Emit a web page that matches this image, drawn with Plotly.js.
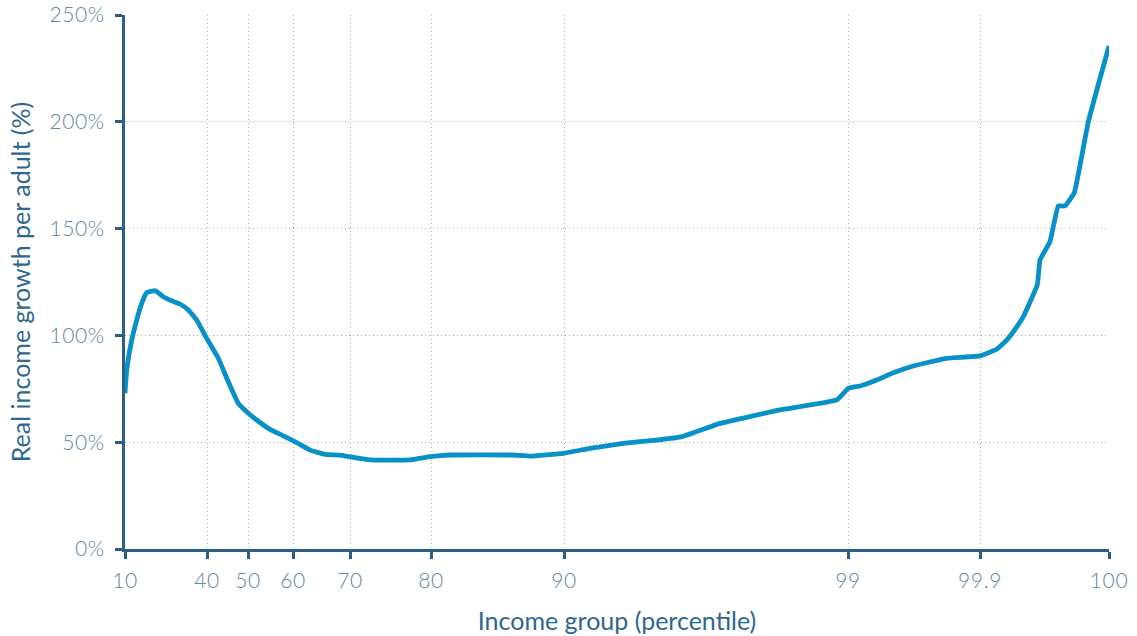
<!DOCTYPE html>
<html>
<head>
<meta charset="utf-8">
<script src="https://cdn.plot.ly/plotly-3.0.1.min.js"></script>
<style>html,body{margin:0;padding:0;background:#fff;}#chart{width:1137px;height:636px;}
.xtick text, .ytick text { letter-spacing: 0.6px; }
</style>
</head>
<body>
<div id="chart"></div>
<script>
// Position of each income group on the chart's non-linear percentile scale (rank index)
const rank = [0, 1.7, 6.7, 11.7, 16.7, 21.7, 30, 33.3, 38.3, 46.7, 55, 63.3, 71.7, 81.7, 93.3, 103.3, 113.3, 121.7, 131.7, 145, 158.3, 171.7, 185, 200, 215, 225, 245, 285, 305, 325, 388.3, 405, 438.3, 465, 498.3, 531.7, 557, 595, 655, 711.7, 723.3, 735, 751.7, 768.3, 788.3, 821.7, 855, 871.7, 881.7, 888.3, 898.3, 912.3, 915, 925, 933.3, 940, 949.3, 963.3, 984];
// Real income growth per adult (%)
const growth = [72.9, 83.8, 97.8, 107.2, 115, 120, 121, 120, 118.1, 116.2, 114.7, 111.9, 107.2, 98.6, 89.3, 78.3, 68.2, 64.3, 60.4, 56, 53, 49.8, 46.3, 44.3, 44, 43.2, 41.7, 41.7, 43.2, 44, 44, 43.5, 44.8, 47.1, 49.5, 51, 52.6, 58.8, 65.1, 69.8, 75.2, 76.3, 79.1, 82.5, 85.7, 89.3, 90.4, 93.5, 97.8, 101.7, 108.8, 123.6, 135.3, 143.9, 160.6, 160.6, 166.8, 200, 235.5];
// Tick positions on the rank scale and their percentile labels
const tickRank = [0, 82, 123, 168, 225, 306, 439, 723, 855, 984];
const tickLabels = ['10', '40', '50', '60', '70', '80', '90', '99', '99.9', '100'];
const yTicks = [0, 50, 100, 150, 200, 250];
const yTickLabels = ['0%', '50%', '100%', '150%', '200%', '250%'];

const axisColor = '#2b5f86';
const tickFontColor = '#5e88a8';
const gridColor = '#9fb2c2';
const titleColor = '#2e6790';

Plotly.newPlot('chart', [{
  x: rank, y: growth, type: 'scatter', mode: 'lines',
  line: {color: '#0890c9', width: 4.8, shape: 'spline', smoothing: 0.3},
  hoverinfo: 'skip'
}], {
  width: 1137, height: 636,
  margin: {l: 125, r: 28, t: 15, b: 87},
  paper_bgcolor: '#fff', plot_bgcolor: '#fff',
  showlegend: false,
  font: {family: 'Lato, sans-serif', color: tickFontColor},
  xaxis: {
    range: [0, 984], tickmode: 'array', tickvals: tickRank, ticktext: tickLabels,
    showline: true, linecolor: axisColor, linewidth: 3,
    ticks: 'outside', ticklen: 7, tickwidth: 3, tickcolor: axisColor,
    tickfont: {size: 21, color: tickFontColor, family: 'Lato, sans-serif', weight: 300},
    ticklabelstandoff: 4,
    showgrid: true, gridcolor: gridColor, gridwidth: 1, griddash: '1px,3px',
    zeroline: false,
    title: {text: 'Income group (percentile)', font: {size: 25, color: titleColor, family: 'Lato, sans-serif'}, standoff: 22}
  },
  yaxis: {
    range: [0, 250], tickmode: 'array', tickvals: yTicks, ticktext: yTickLabels,
    showline: true, linecolor: axisColor, linewidth: 3,
    ticks: 'outside', ticklen: 7, tickwidth: 3, tickcolor: axisColor,
    tickfont: {size: 21, color: tickFontColor, family: 'Lato, sans-serif', weight: 300},
    ticklabelstandoff: 6,
    showgrid: true, gridcolor: gridColor, gridwidth: 1, griddash: '1px,3px',
    zeroline: false,
    title: {text: 'Real income growth per adult (%)', font: {size: 25, color: titleColor, family: 'Lato, sans-serif'}, standoff: 12}
  }
}, {displayModeBar: false, staticPlot: true});
</script>
</body>
</html>
